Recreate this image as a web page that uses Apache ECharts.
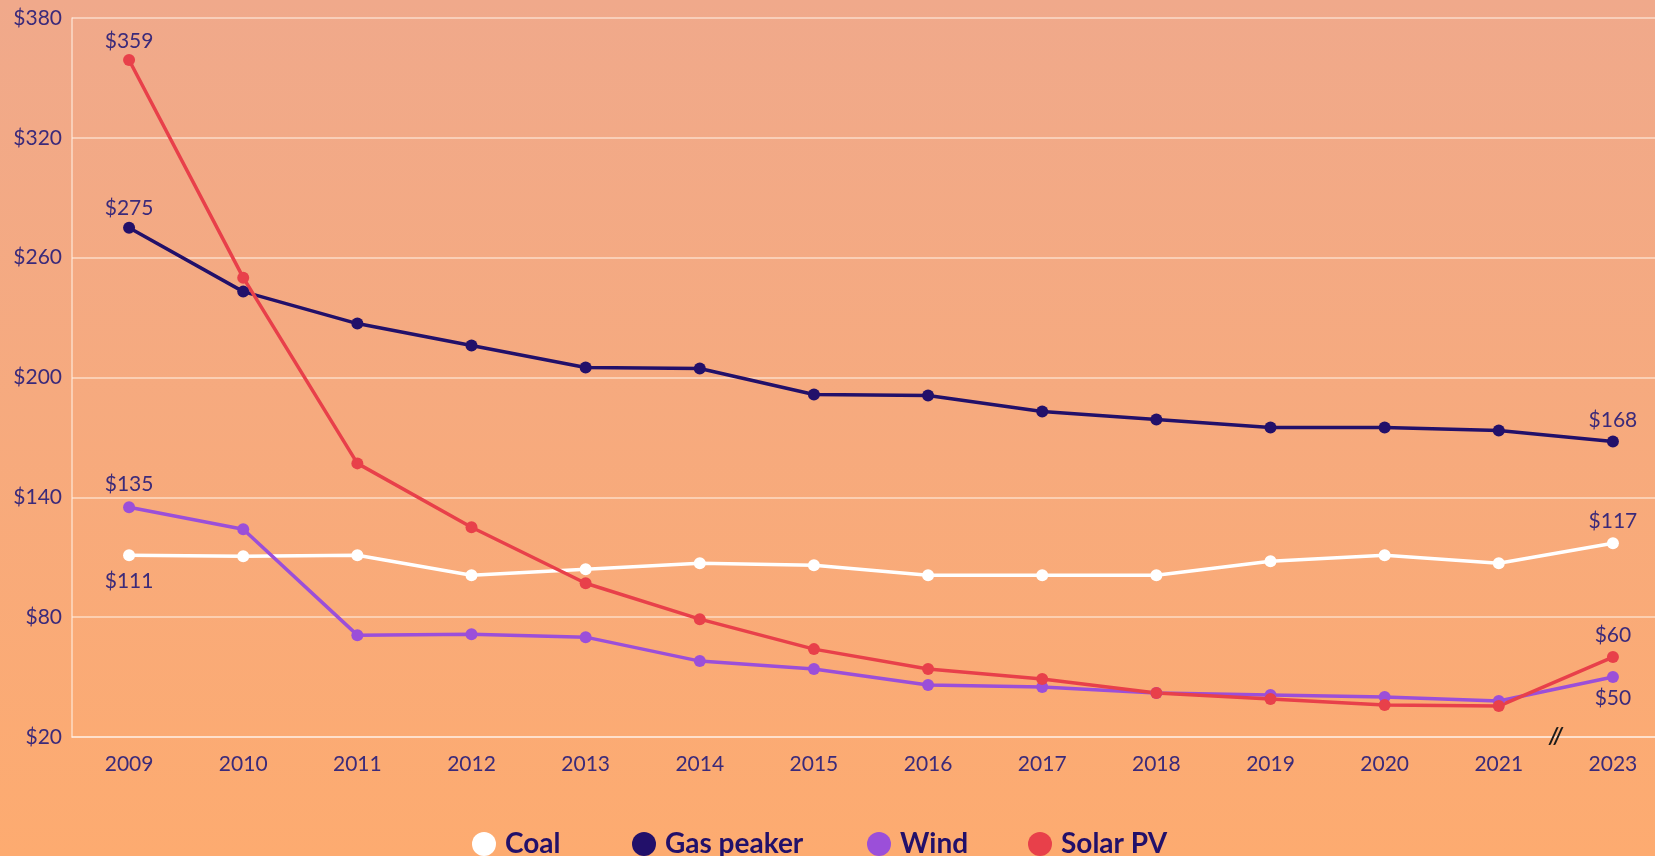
<!DOCTYPE html>
<html>
<head>
<meta charset="utf-8">
<script src="https://cdn.jsdelivr.net/npm/echarts@6/dist/echarts.min.js"></script>
<style>html,body{margin:0;padding:0;}#c{width:1655px;height:856px;}</style>
</head>
<body>
<div id="c"></div>
<script>
const years = ['2009','2010','2011','2012','2013','2014','2015','2016','2017','2018','2019','2020','2021','2023'];
const coal = [111,110.5,111,101,104,107,106,101,101,101,108,111,107,117];
const gasPeaker = [275,243,227,216,205,204.5,191.5,191,183,179,175,175,173.5,168];
const wind = [135,124,71,71.5,70,58,54,46,45,42,41,40,38,50];
const solarPV = [359,250,157,125,97,79,64,54,49,42,39,36,35.5,60];
const seriesNames = ['Coal', 'Gas peaker', 'Wind', 'Solar PV'];

const textColor = '#3B2A7A';
const font = 'Lato';

function mkSeries(name, data, color, pos0, posN, d0, dN) {
  return {
    name, type: 'line',
    symbol: 'circle', symbolSize: 12,
    lineStyle: { color, width: 3.5 },
    itemStyle: { color },
    label: { show: false },
    data: data.map((v, i) => {
      const o = { value: v };
      if (i === 0 || i === data.length - 1) {
        const pos = i === 0 ? pos0 : posN;
        o.label = {
          show: true, color: textColor, fontFamily: font, fontSize: 21,
          position: pos, distance: i === 0 ? d0 : dN,
          formatter: '$' + v
        };
      }
      return o;
    })
  };
}

const legendLefts = [467, 627, 862, 1023];
const legends = seriesNames.map((n, i) => ({
  left: legendLefts[i], top: 825,
  icon: 'circle', itemWidth: 24, itemHeight: 24, itemGap: 10,
  textStyle: { color: '#22106A', fontFamily: font, fontWeight: 'bold', fontSize: 28, padding: [0, 0, 0, 4] },
  data: [n]
}));

const chart = echarts.init(document.getElementById('c'));
const option = {
  animation: false,
  backgroundColor: new echarts.graphic.LinearGradient(0, 0, 0, 1, [
    { offset: 0, color: '#F0A98B' },
    { offset: 1, color: '#FDAB70' }
  ]),
  grid: { left: 72, width: 1598, top: 18, bottom: 119, outerBoundsMode: 'none', containLabel: false },
  legend: legends,
  xAxis: {
    type: 'category', data: years, boundaryGap: true,
    axisLine: { show: true, lineStyle: { color: 'rgba(255,240,230,0.7)', width: 1.5 } },
    axisTick: { show: false },
    axisLabel: { color: textColor, fontFamily: font, fontSize: 21, margin: 17 }
  },
  yAxis: {
    type: 'value', min: 20, max: 380, interval: 60,
    axisLine: { show: true, lineStyle: { color: 'rgba(255,240,230,0.7)', width: 1.5 } },
    axisTick: { show: false },
    splitLine: { lineStyle: { color: 'rgba(255,240,230,0.7)', width: 1.5 } },
    axisLabel: { color: textColor, fontFamily: font, fontSize: 21, margin: 10, formatter: v => '$' + v }
  },
  series: [
    mkSeries('Coal', coal, '#FFFFFF', 'bottom', 'top', 9, 6),
    mkSeries('Gas peaker', gasPeaker, '#22106A', 'top', 'top', 3, 5),
    mkSeries('Wind', wind, '#9B4FD9', 'top', 'bottom', 7, 5),
    mkSeries('Solar PV', solarPV, '#E8404A', 'top', 'top', 2, 5)
  ]
};
chart.setOption(option);

// axis break marker between 2021 and 2023
const pA = chart.convertToPixel({ gridIndex: 0 }, ['2021', 20]);
const pB = chart.convertToPixel({ gridIndex: 0 }, ['2023', 20]);
chart.setOption({
  graphic: [{
    type: 'text',
    x: (pA[0] + pB[0]) / 2, y: pA[1],
    style: { text: '//', fill: '#1a1a1a', font: 'italic bold 22px Lato', align: 'center', verticalAlign: 'middle' },
    z: 100
  }]
});
</script>
</body>
</html>
